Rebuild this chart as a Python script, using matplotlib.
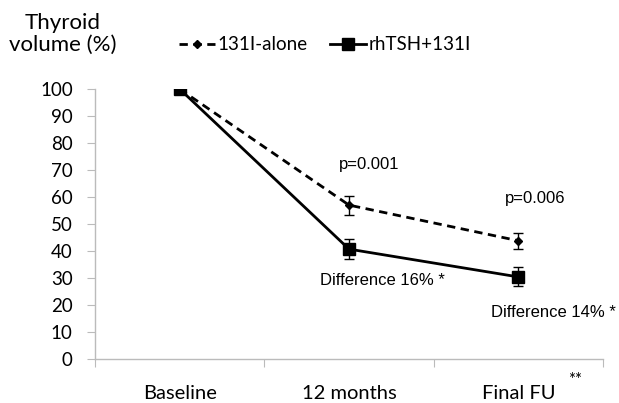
import matplotlib
matplotlib.use("Agg")
import matplotlib.pyplot as plt
from matplotlib.lines import Line2D

categories = ["Baseline", "12 months", "Final FU"]
alone_vals = [100, 57, 43.8]
alone_err = [0, 3.5, 3.0]
rhtsh_vals = [100, 40.7, 30.4]
rhtsh_err = [0, 3.7, 3.5]
yticks = list(range(0, 101, 10))

fig = plt.figure(figsize=(6.19, 4.03), dpi=100)
ax = fig.add_axes([95/619, 44/403, 508/619, 270/403])

x = [1, 2, 3]
dash = (0, (3, 2))
ax.errorbar(x, alone_vals, yerr=alone_err, color="black", lw=2, ls=dash,
            marker="D", ms=4.5, capsize=3.5, elinewidth=1, capthick=1, zorder=3)
ax.errorbar(x, rhtsh_vals, yerr=rhtsh_err, color="black", lw=2, ls="-",
            marker="s", ms=8, capsize=3.5, elinewidth=1, capthick=1, zorder=4)

ax.set_xlim(0.5, 3.5)
ax.set_ylim(0, 100)
ax.set_yticks(yticks)
ax.set_yticklabels([str(v) for v in yticks], fontfamily="Lato", fontsize=13.5)
ax.set_xticks([0.5, 1.5, 2.5, 3.5])
ax.set_xticklabels([])
ax.set_xticks(x, minor=True)
ax.set_xticklabels(categories, minor=True, fontfamily="Lato", fontsize=14.5)
ax.tick_params(axis="x", which="minor", length=0, pad=19)
ax.tick_params(axis="x", which="major", length=6, color="#bbbbbb", direction="out")
ax.tick_params(axis="y", length=6, color="#bbbbbb", direction="out", pad=10)
for s in ["top", "right"]:
    ax.spines[s].set_visible(False)
for s in ["left", "bottom"]:
    ax.spines[s].set_color("#bbbbbb")
    ax.spines[s].set_linewidth(1)

arial = "Liberation Sans"
ax.text(2.12, 72, "p=0.001", ha="center", va="center", fontfamily=arial, fontsize=12)
ax.text(3.1, 59.6, "p=0.006", ha="center", va="center", fontfamily=arial, fontsize=12)
ax.text(2.2, 28.9, "Difference 16% *", ha="center", va="center", fontfamily=arial, fontsize=12)
ax.text(3.21, 17.4, "Difference 14% *", ha="center", va="center", fontfamily=arial, fontsize=12)

fig.text(575/619, 1 - 380/403, "**", ha="center", va="center", fontfamily="Lato", fontsize=12)
fig.text(63/619, 1 - 34/403, "Thyroid\nvolume (%)", ha="center", va="center",
         fontfamily="Lato", fontsize=16, linespacing=1.15)

handles = [Line2D([], [], color="black", lw=2, ls=dash, marker="D", ms=4.5),
           Line2D([], [], color="black", lw=2, ls="-", marker="s", ms=8)]
leg = ax.legend(handles, ["131I-alone", "rhTSH+131I"], loc="center left",
                bbox_to_anchor=(170/619, 1 - 45/403), bbox_transform=fig.transFigure,
                ncol=2, frameon=False, prop={"family": "Lato", "size": 13.5},
                handlelength=1.9, handletextpad=0.15, columnspacing=1.2, borderpad=0)

fig.savefig("out.png", dpi=100)
